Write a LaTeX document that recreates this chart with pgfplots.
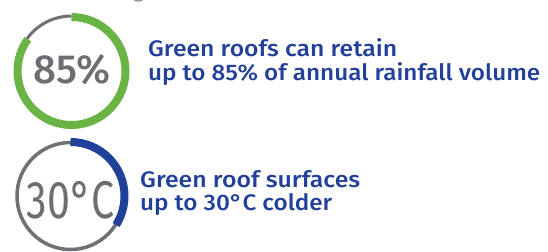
\documentclass[border=0pt]{standalone}
\usepackage{pgfplots}
\pgfplotsset{compat=1.18}
\usepackage{fontspec}
\setmainfont{Fira Sans}
\newfontfamily\firamed{Fira Sans Medium}
\definecolor{ringgreen}{RGB}{106,180,69}
\definecolor{ringblue}{RGB}{33,64,154}
\definecolor{ringgrey}{RGB}{112,112,116}
\definecolor{numgrey}{RGB}{109,110,113}
\definecolor{txtblue}{RGB}{34,64,154}
% data: share of the ring that is coloured (percent of full circle)
\def\shareA{85}   % 85% rainfall retention
\def\shareB{34}   % 30 degC cooler, arc as drawn
\newcommand\fitw[2]{\resizebox{#1}{\height}{#2}}
\begin{document}
\begin{tikzpicture}
\begin{axis}[x=1bp,y=1bp,xmin=0,xmax=548,ymin=0,ymax=251,hide axis,clip=true,
  scale only axis]
\addplot[draw=none,forget plot] coordinates {(0,0) (548,251)};
% cut-off heading descender at the very top
\node[numgrey!70,anchor=base,inner sep=0pt,font=\fontsize{22bp}{24bp}\selectfont] at (axis cs:138.5,253.5) {g};
% ring 1
\draw[ringgrey,line width=3bp] (axis cs:71.5,180) ++(90:55bp) arc[start angle=90,end angle={90+360-3.6*\shareA},radius=55bp];
\draw[ringgreen,line width=8bp] (axis cs:71.5,180) ++(90:54bp) arc[start angle=90,end angle={90-3.6*\shareA},radius=54bp];
\node[numgrey,anchor=base,inner sep=0pt,font=\firamed\fontsize{40.6bp}{44bp}\selectfont] at (axis cs:71.7,167.7) {\fitw{77bp}{85\%}};
% ring 2
\draw[ringgrey,line width=3.5bp] (axis cs:70.5,55) circle[radius=53.5bp];
\draw[ringblue,line width=8bp] (axis cs:70.5,55) ++(90:54bp) arc[start angle=90,end angle={90-3.6*\shareB},radius=54bp];
\node[numgrey,anchor=base,inner sep=0pt,font=\fontsize{53bp}{56bp}\selectfont] at (axis cs:71,32.7) {\fitw{88bp}{30°C}};
% texts
\node[txtblue,anchor=base west,inner sep=0pt,font=\firamed\fontsize{22.5bp}{24bp}\selectfont] at (axis cs:148,194.3) {\fitw{249bp}{Green roofs can retain}};
\node[txtblue,anchor=base west,inner sep=0pt,font=\firamed\fontsize{22.5bp}{24bp}\selectfont] at (axis cs:148,171) {\fitw{392bp}{up to 85\% of annual rainfall volume}};
\node[txtblue,anchor=base west,inner sep=0pt,font=\firamed\fontsize{22.5bp}{24bp}\selectfont] at (axis cs:140,63.3) {\fitw{220bp}{Green roof surfaces}};
\node[txtblue,anchor=base west,inner sep=0pt,font=\firamed\fontsize{22.5bp}{24bp}\selectfont] at (axis cs:140,41) {\fitw{192bp}{up to 30°C colder}};
\end{axis}
\end{tikzpicture}
\end{document}
